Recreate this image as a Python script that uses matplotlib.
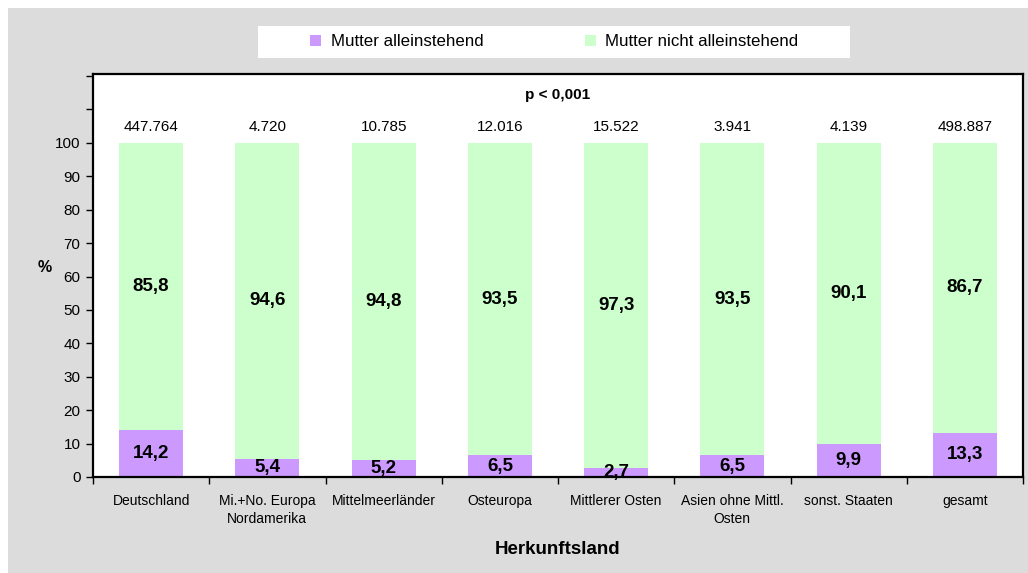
import numpy as np
import matplotlib.pyplot as plt
from matplotlib.patches import Rectangle

plt.rcParams['font.family'] = ['Liberation Sans', 'DejaVu Sans']

# Herkunftsland
laender = ["Deutschland", "Mi.+No. Europa\nNordamerika", "Mittelmeerländer", "Osteuropa",
           "Mittlerer Osten", "Asien ohne Mittl.\nOsten", "sonst. Staaten", "gesamt"]
allein = [14.2, 5.4, 5.2, 6.5, 2.7, 6.5, 9.9, 13.3]
nicht_allein = [85.8, 94.6, 94.8, 93.5, 97.3, 93.5, 90.1, 86.7]
anzahl = ["447.764", "4.720", "10.785", "12.016", "15.522", "3.941", "4.139", "498.887"]

c_allein = "#cc99ff"
c_nicht = "#ccffcc"

fig = plt.figure(figsize=(10.28, 5.73), dpi=100)
fig.patch.set_facecolor("white")
fig.patches.append(Rectangle((8/1028, 0), 1, 1 - 8/573, transform=fig.transFigure,
                             facecolor="#dcdcdc", edgecolor="none", zorder=-10))
# weisser Kasten hinter der Legende
fig.patches.append(Rectangle((258/1028, 1 - 58/573), 592/1028, 32/573, transform=fig.transFigure,
                             facecolor="white", edgecolor="none", zorder=-5))

ax = fig.add_axes([93/1028, 1 - 477/573, (1023-93)/1028, (477-74)/573])
ax.set_facecolor("white")
x = np.arange(len(laender))
w = 0.55
ax.bar(x, allein, w, color=c_allein, label="Mutter alleinstehend")
ax.bar(x, nicht_allein, w, bottom=allein, color=c_nicht, label="Mutter nicht alleinstehend")

for i in x:
    ax.text(i, allein[i] / 2, f"{allein[i]:.1f}".replace(".", ","), ha="center", va="center",
            fontsize=13.5, fontweight="bold")
    ax.text(i, allein[i] + nicht_allein[i] / 2, f"{nicht_allein[i]:.1f}".replace(".", ","),
            ha="center", va="center", fontsize=13.5, fontweight="bold")
    ax.text(i, 104.8, anzahl[i], ha="center", va="center", fontsize=11)

ax.text(3.5, 114.4, "p < 0,001", ha="center", va="center", fontsize=11, fontweight="bold")

ax.set_xlim(-0.5, len(laender) - 0.5)
ax.set_ylim(0, 120.6)
ax.set_yticks(np.arange(0, 121, 10))
ax.set_yticklabels([str(v) if v <= 100 else "" for v in range(0, 121, 10)], fontsize=11)
ax.set_xticks(np.arange(-0.5, len(laender), 1))
ax.set_xticklabels([])
ax.set_xticks(x, minor=True)
ax.set_xticklabels(laender, minor=True, fontsize=10, linespacing=1.4)
ax.tick_params(axis="x", which="minor", length=0, pad=12)
ax.tick_params(axis="both", which="major", length=5, width=1, direction="out", color="black")
ax.tick_params(axis="y", which="major", pad=4)
for s in ax.spines.values():
    s.set_linewidth(1.6)
    s.set_color("black")

ax.set_ylabel("%", fontsize=11.5, fontweight="bold", rotation=0)
ax.yaxis.set_label_coords(-0.052, 0.5)
ax.set_xlabel("Herkunftsland", fontsize=13.5, fontweight="bold")
ax.xaxis.set_label_coords(0.5, -0.16)

leg = fig.legend(loc="center left", bbox_to_anchor=(310/1028, 1 - 42/573), ncol=2, fontsize=12.2,
                 frameon=False, handlelength=0.66, handleheight=0.66, columnspacing=6.0,
                 borderpad=0, handletextpad=0.55, borderaxespad=0)

plt.savefig("out.png", dpi=100)
